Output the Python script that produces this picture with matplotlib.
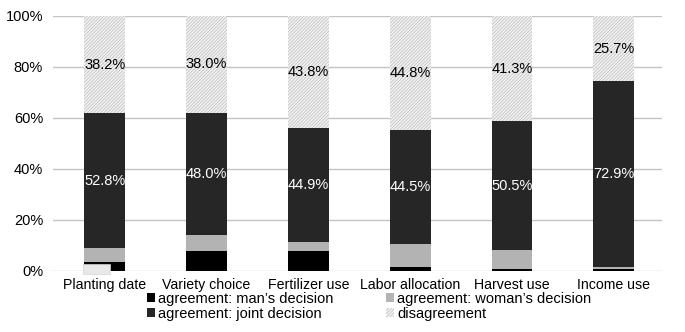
import numpy as np
import matplotlib
matplotlib.use("Agg")
import matplotlib.pyplot as plt

categories = ["Planting date", "Variety choice", "Fertilizer use",
              "Labor allocation", "Harvest use", "Income use"]
man = [3.5, 8.0, 8.0, 1.7, 0.6, 0.6]
woman = [5.5, 6.0, 3.3, 9.0, 7.6, 0.8]
joint = [52.8, 48.0, 44.9, 44.5, 50.5, 72.9]
disagree = [38.2, 38.0, 43.8, 44.8, 41.3, 25.7]
yticks = [0, 20, 40, 60, 80, 100]

plt.rcParams["font.family"] = ["Liberation Sans", "DejaVu Sans"]
plt.rcParams["hatch.linewidth"] = 0.5

fig = plt.figure(figsize=(6.85, 3.32), dpi=100)
ax = fig.add_axes([0.077, 0.184, 0.889, 0.768])

x = np.arange(len(categories))
w = 0.4
man = np.array(man); woman = np.array(woman)
joint = np.array(joint); disagree = np.array(disagree)

b1 = ax.bar(x, man, w, color="#000000", label="agreement: man\u2019s decision", zorder=3)
b2 = ax.bar(x, woman, w, bottom=man, color="#b3b3b3",
            label="agreement: woman\u2019s decision", zorder=3)
b3 = ax.bar(x, joint, w, bottom=man + woman, color="#262626",
            label="agreement: joint decision", zorder=3)
b4 = ax.bar(x, disagree, w, bottom=man + woman + joint, facecolor="#f2f2f2",
            edgecolor="#bcbcbc", hatch="//////////", linewidth=0,
            label="disagreement", zorder=3)

for i in range(len(categories)):
    yj = man[i] + woman[i] + joint[i] / 2
    ax.text(x[i], yj, f"{joint[i]:.1f}%", ha="center", va="center",
            color="white", fontsize=10.5, zorder=4)
    yd = man[i] + woman[i] + joint[i] + disagree[i] / 2
    ax.text(x[i], yd, f"{disagree[i]:.1f}%", ha="center", va="center",
            color="black", fontsize=10.5, zorder=4)

# stray empty label box at the first bar
ax.text(x[0] - 0.08, man[0] / 2 - 1.0, "           ", ha="center", va="center",
        fontsize=5.5, zorder=5,
        bbox=dict(boxstyle="square,pad=0.25", facecolor="#e8e8e8",
                  edgecolor="#d4d4d4", linewidth=0.5))

ax.set_xlim(-0.51, 5.47)
ax.set_ylim(0, 100)
ax.set_yticks(yticks)
ax.set_yticklabels([f"{v}%" for v in yticks], fontsize=10.5)
ax.set_xticks(x)
ax.set_xticklabels(categories, fontsize=10.2)
ax.tick_params(length=0, pad=5)
ax.tick_params(axis="y", pad=7)
for s in ax.spines.values():
    s.set_visible(False)
ax.yaxis.grid(True, color="#c4c4c4", linewidth=1, zorder=0)
ax.set_axisbelow(True)

handles = [b1, b3, b2, b4]
fig.legend(handles, [h.get_label() for h in handles], ncol=2, loc="lower left",
           bbox_to_anchor=(0.196, -0.005), frameon=False, fontsize=10.5,
           handlelength=0.55, handleheight=0.55, handletextpad=0.2,
           columnspacing=3.6, labelspacing=0.05)

fig.savefig("out.png", dpi=100)
